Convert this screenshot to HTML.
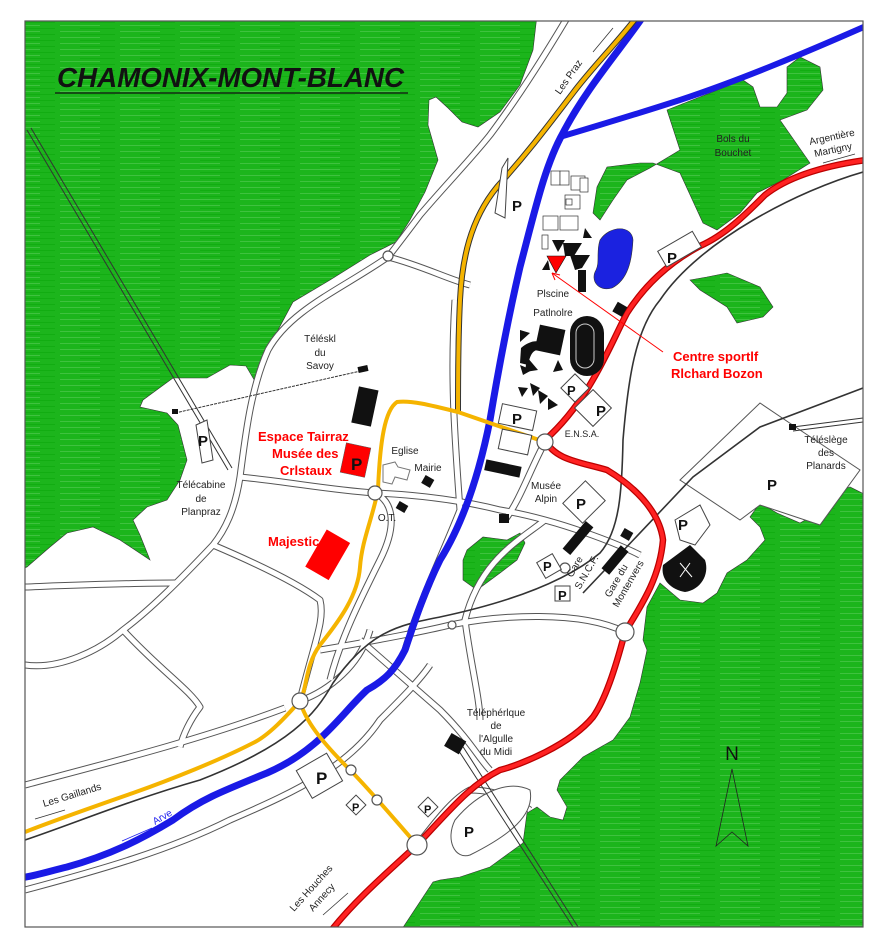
<!DOCTYPE html>
<html><head><meta charset="utf-8"><style>
html,body{margin:0;padding:0;background:#fff;}
svg{display:block;}
text{font-family:"Liberation Sans",sans-serif;}
.l{font-size:10px;fill:#222;}
.r{font-size:13px;fill:#f00;font-weight:bold;}
.p{font-size:15px;font-weight:bold;fill:#111;}
</style></head><body>
<svg width="880" height="950" viewBox="0 0 880 950" xmlns="http://www.w3.org/2000/svg">
<defs>
<pattern id="g" width="60" height="6" patternUnits="userSpaceOnUse">
<rect width="60" height="6" fill="#1cb51c"/>
<rect y="1" width="40" height="1" fill="#3fc23f"/>
<rect x="20" y="4" width="35" height="1" fill="#12ad12"/>
</pattern>
<clipPath id="c"><rect x="25" y="21" width="838" height="906"/></clipPath>
</defs>
<rect x="25" y="21" width="838" height="906" fill="#fff"/>
<g clip-path="url(#c)">
<!-- green areas -->
<path fill="url(#g)" stroke="#333" stroke-width="0.6" d="M20,15 L537,15 L533,50 L520,85 L500,112 L478,127 L462,122 L448,108 L436,97 L429,100 L428,125 L438,160 L425,192 L410,220 L396,242 L370,255 L330,280 L293,302 L270,345 L256,383 L246,366 L230,365 L207,378 L173,378 L143,400 L140,407 L167,413 L178,425 L187,460 L180,480 L167,500 L147,507 L133,520 L140,535 L150,560 L120,540 L93,527 L67,533 L50,547 L27,567 L20,570 Z"/>
<path fill="url(#g)" stroke="#333" stroke-width="0.6" d="M667,110 L743,80 L753,87 L760,107 L777,107 L787,93 L787,67 L800,57 L820,67 L823,90 L807,110 L780,120 L810,163 L783,180 L757,193 L740,213 L717,230 L703,223 L680,173 L653,163 L640,163 L607,167 L597,187 L593,213 L600,220 L613,200 L627,180 L650,168 L680,150 Z"/>
<path fill="url(#g)" stroke="#333" stroke-width="0.6" d="M690,280 L707,277 L727,273 L760,287 L773,307 L763,317 L737,323 L727,307 L700,290 Z"/>
<path fill="url(#g)" stroke="#333" stroke-width="0.6" d="M870,497 L850,487 L833,493 L823,510 L800,523 L777,513 L760,503 L750,517 L760,527 L765,540 L747,560 L727,573 L717,593 L703,603 L680,600 L660,583 L647,607 L643,640 L647,650 L640,683 L630,717 L613,740 L583,757 L560,780 L557,790 L567,807 L563,820 L550,817 L537,807 L527,813 L523,843 L490,867 L460,877 L440,880 L433,882 L400,932 L870,932 Z"/>
<path fill="url(#g)" stroke="#333" stroke-width="0.6" d="M467,550 L483,537 L507,540 L520,533 L525,543 L517,560 L500,573 L477,590 L463,580 L463,560 Z"/>
<path d="M600,240 C610,225 632,225 633,240 C632,260 628,280 612,288 C598,292 590,280 596,270 C600,262 596,252 600,240 Z" fill="#1b22e0" stroke="#333" stroke-width="0.6"/>

<!-- gray roads -->
<g fill="none" stroke="#555" stroke-width="7" stroke-linejoin="round">
<path d="M567,18 C545,55 520,95 490,135 C470,160 450,180 420,215 C405,235 395,248 388,257 C340,290 290,310 268,350 C250,390 245,440 240,477 C235,510 225,530 213,545 C180,580 150,610 123,630 C100,650 60,670 25,665"/>
<path d="M388,257 C420,265 450,280 470,285"/>
<path d="M240,477 C290,482 330,490 375,493"/>
<path d="M25,587 C80,585 130,583 175,583"/>
<path d="M213,545 C260,565 300,585 320,600 C325,620 315,640 300,700"/>
<path d="M123,630 C160,670 190,690 200,707 C190,720 183,735 180,747"/>
<path d="M25,785 C100,765 200,740 285,708"/>
<path d="M25,890 C100,870 170,850 230,820 C300,790 350,765 380,720 C400,700 420,680 430,665"/>
<path d="M375,493 C420,495 460,500 500,510 C560,520 620,545 640,555"/>
<path d="M455,300 C450,380 455,440 460,510 C440,560 420,600 405,650"/>
<path d="M545,442 C530,470 520,500 505,520"/>
<path d="M375,493 C390,500 400,520 380,560 C360,600 340,640 330,680"/>
<path d="M545,520 C520,540 480,560 465,620 C470,660 480,700 480,720"/>
<path d="M320,650 C380,640 430,630 450,625 C500,615 580,610 625,632"/>
<path d="M360,640 L440,710 C470,740 480,760 490,770"/>
<path d="M300,701 C330,690 360,665 370,630"/>
<path d="M417,845 C430,830 450,800 470,790 C490,790 510,795 530,810"/>
</g>
<g fill="none" stroke="#fff" stroke-width="5" stroke-linejoin="round">
<path d="M567,18 C545,55 520,95 490,135 C470,160 450,180 420,215 C405,235 395,248 388,257 C340,290 290,310 268,350 C250,390 245,440 240,477 C235,510 225,530 213,545 C180,580 150,610 123,630 C100,650 60,670 25,665"/>
<path d="M388,257 C420,265 450,280 470,285"/>
<path d="M240,477 C290,482 330,490 375,493"/>
<path d="M25,587 C80,585 130,583 175,583"/>
<path d="M213,545 C260,565 300,585 320,600 C325,620 315,640 300,700"/>
<path d="M123,630 C160,670 190,690 200,707 C190,720 183,735 180,747"/>
<path d="M25,785 C100,765 200,740 285,708"/>
<path d="M25,890 C100,870 170,850 230,820 C300,790 350,765 380,720 C400,700 420,680 430,665"/>
<path d="M375,493 C420,495 460,500 500,510 C560,520 620,545 640,555"/>
<path d="M455,300 C450,380 455,440 460,510 C440,560 420,600 405,650"/>
<path d="M545,442 C530,470 520,500 505,520"/>
<path d="M375,493 C390,500 400,520 380,560 C360,600 340,640 330,680"/>
<path d="M545,520 C520,540 480,560 465,620 C470,660 480,700 480,720"/>
<path d="M320,650 C380,640 430,630 450,625 C500,615 580,610 625,632"/>
<path d="M360,640 L440,710 C470,740 480,760 490,770"/>
<path d="M300,701 C330,690 360,665 370,630"/>
<path d="M417,845 C430,830 450,800 470,790 C490,790 510,795 530,810"/>
</g>
<!-- big parking outlines -->
<path d="M680,480 L760,403 L800,430 L860,470 L820,525 L760,505 L740,520 Z" fill="#fff" stroke="#555" stroke-width="1"/>
<path d="M455,820 C480,790 510,780 530,790 C535,815 510,835 470,855 C455,860 445,840 455,820 Z" fill="#fff" stroke="#555" stroke-width="1"/>

<!-- rail lines -->
<g fill="none" stroke="#333" stroke-width="1.6">
<path d="M863,172 C800,190 700,240 660,300 C635,330 628,380 623,440 C622,490 620,530 600,553 C570,578 520,600 440,617 C400,625 370,630 333,683 C315,715 290,745 200,780 C130,800 70,825 25,840"/>
<path d="M863,388 L760,427 L693,477 L583,593"/>
</g>
<g stroke="#333" stroke-width="1">
<path d="M27,130 L228,470 M31,128 L232,468"/>
<path d="M455,745 L575,930 M460,742 L580,930"/>
<path d="M793,427 L863,418 M793,431 L863,422"/>
</g>
<path d="M175,413 L365,370" stroke="#333" stroke-width="1" stroke-dasharray="3,1"/>
<rect x="172" y="409" width="6" height="5" fill="#111"/>
<rect x="358" y="366" width="10" height="6" fill="#111" transform="rotate(-12 363 369)"/>
<rect x="789" y="424" width="7" height="6" fill="#111"/>

<!-- rivers -->
<g fill="none" stroke="#1a1ae6" stroke-linecap="round">
<path stroke-width="7" d="M642,18 C620,50 585,90 563,133 C545,165 535,210 520,267 C510,310 500,360 490,420 C480,470 465,520 440,560 C425,590 415,620 405,650 C395,670 385,680 367,690 C340,715 320,750 267,773 C220,792 200,800 173,820 C140,840 110,855 67,867 C50,871 35,876 20,878"/>
<path stroke-width="6" d="M563,136 C600,125 640,113 680,100 C740,80 800,55 866,26"/>
</g>
<!-- orange road -->
<g fill="none" stroke="#333" stroke-width="6"><path d="M636,18 C615,45 590,70 573,93 C550,123 530,150 497,187 C470,220 462,260 460,300 C458,340 458,380 458,412"/></g>
<g fill="none" stroke="#f5b400" stroke-width="4" stroke-linejoin="round">
<path d="M636,18 C615,45 590,70 573,93 C550,123 530,150 497,187 C470,220 462,260 460,300 C458,340 458,380 458,412"/>
<path d="M545,442 L458,412 C430,405 410,400 397,402 C385,410 380,440 378,490 C372,520 362,540 360,567 C358,595 340,620 320,645 C305,665 307,690 300,701 C290,712 270,735 253,743 C220,760 170,780 133,793 C90,808 50,822 25,832"/>
<path d="M300,701 C305,720 320,740 350,770 C370,790 395,820 417,845"/>
</g>
<!-- red road -->
<g fill="none" stroke="#b00" stroke-width="6.5" stroke-linejoin="round"><path d="M866,160 C830,165 790,175 765,195 C745,215 725,235 700,246 C670,262 645,285 627,313 C610,345 590,400 545,440 C555,460 580,462 607,470 C640,490 660,515 663,540 C660,575 645,600 625,632 C615,670 605,700 593,717 C570,745 520,765 500,770 C470,785 450,810 417,845 C390,870 355,900 330,932"/></g>
<g fill="none" stroke="#f22" stroke-width="4" stroke-linejoin="round"><path d="M866,160 C830,165 790,175 765,195 C745,215 725,235 700,246 C670,262 645,285 627,313 C610,345 590,400 545,440 C555,460 580,462 607,470 C640,490 660,515 663,540 C660,575 645,600 625,632 C615,670 605,700 593,717 C570,745 520,765 500,770 C470,785 450,810 417,845 C390,870 355,900 330,932"/></g>
<!-- roundabouts -->
<g fill="#fff" stroke="#555" stroke-width="1.2">
<circle cx="388" cy="256" r="5"/><circle cx="375" cy="493" r="7"/><circle cx="545" cy="442" r="8"/>
<circle cx="625" cy="632" r="9"/><circle cx="300" cy="701" r="8"/><circle cx="417" cy="845" r="10"/>
<circle cx="351" cy="770" r="5"/><circle cx="377" cy="800" r="5"/><circle cx="452" cy="625" r="4"/><circle cx="565" cy="568" r="5"/>
</g>

<!-- buildings -->
<g fill="#111">
<rect x="355" y="388" width="20" height="37" transform="rotate(12 365 406)"/>
<rect x="485" y="463" width="36" height="11" transform="rotate(12 503 468)"/>
<rect x="423" y="477" width="10" height="9" transform="rotate(30 428 481)"/>
<rect x="397" y="503" width="10" height="8" transform="rotate(30 402 507)"/>
<rect x="499" y="514" width="10" height="9"/>
<rect x="573" y="520" width="10" height="36" transform="rotate(40 578 538)"/>
<rect x="622" y="530" width="10" height="9" transform="rotate(30 627 534)"/>
<rect x="610" y="545" width="10" height="30" transform="rotate(40 615 560)"/>
<rect x="447" y="736" width="17" height="15" transform="rotate(30 455 743)"/>
<rect x="614" y="304" width="11" height="11" transform="rotate(30 620 310)"/>
<rect x="537" y="327" width="26" height="26" transform="rotate(12 550 340)"/>
<rect x="578" y="270" width="8" height="22"/>
<rect x="570" y="316" width="34" height="60" rx="17"/>
<polygon points="552,240 565,240 558,252"/><polygon points="563,243 582,243 574,256 565,256"/>
<polygon points="570,255 590,255 582,268 575,270"/><polygon points="542,270 548,260 550,270"/>
<polygon points="585,228 592,238 583,238"/>
<polygon points="520,330 530,333 520,342"/><polygon points="520,365 532,370 523,375"/>
<polygon points="527,357 538,370 525,372"/><polygon points="558,360 563,370 553,372"/>
<polygon points="518,387 528,388 522,397"/><polygon points="530,383 540,388 533,396"/><polygon points="538,390 548,396 540,404"/><polygon points="548,398 558,405 548,410"/>
<path d="M521,348 C528,342 535,340 540,342 L538,350 C533,350 530,355 528,365 L520,363 Z"/>
<path d="M663,565 L690,545 L705,560 C710,575 700,590 685,592 C672,590 660,580 663,565 Z"/>
</g>
<rect x="576" y="324" width="18" height="44" rx="9" fill="none" stroke="#ccc" stroke-width="1"/>
<path d="M680,563 L692,577 M690,563 L680,577" stroke="#fff" stroke-width="1"/>
<polygon points="547,256 566,256 556,273" fill="#f00" stroke="#111" stroke-width="0.6"/>
<g fill="#fff" stroke="#333" stroke-width="0.7">
<rect x="551" y="171" width="9" height="14"/><rect x="560" y="171" width="9" height="14"/>
<rect x="571" y="176" width="14" height="14"/><rect x="580" y="178" width="8" height="14"/>
<rect x="565" y="195" width="15" height="14"/><rect x="543" y="216" width="15" height="14"/><rect x="560" y="216" width="18" height="14"/>
<rect x="542" y="235" width="6" height="14"/><rect x="566" y="199" width="6" height="6"/>
</g>
<!-- red buildings -->
<rect x="343" y="445" width="25" height="30" fill="#f00" stroke="#555" stroke-width="0.5" transform="rotate(12 355 460)"/>
<text x="351" y="470" class="p" style="font-size:17px">P</text>
<rect x="314" y="533" width="27" height="43" fill="#f00" transform="rotate(30 327 555)"/>
<!-- Eglise cross -->
<path d="M383,465 L395,462 L398,467 L410,470 L407,480 L395,477 L392,484 L383,482 Z" fill="#fff" stroke="#777" stroke-width="1"/>
<!-- P boxes -->
<g fill="#fff" stroke="#444" stroke-width="1">
<path d="M502,168 L508,158 L505,218 L495,213 Z"/>
<rect x="580" y="395" width="26" height="26" transform="rotate(45 593 408)"/>
<rect x="565" y="378" width="20" height="20" transform="rotate(45 575 388)"/>
<rect x="500" y="407" width="35" height="20" transform="rotate(12 517 417)"/>
<rect x="500" y="432" width="30" height="20" transform="rotate(12 515 442)"/>
<rect x="660" y="240" width="40" height="18" transform="rotate(-30 680 250)"/>
<rect x="568" y="488" width="32" height="28" transform="rotate(-45 584 502)"/>
<rect x="540" y="557" width="18" height="18" transform="rotate(-30 549 566)"/>
<rect x="555" y="586" width="15" height="15"/>
<rect x="302" y="760" width="35" height="32" transform="rotate(-30 319 776)"/>
<rect x="349" y="798" width="14" height="14" transform="rotate(-45 356 805)"/>
<rect x="421" y="800" width="14" height="14" transform="rotate(-45 428 807)"/>
<path d="M196,425 L207,420 L213,460 L202,463 Z"/>
<path d="M675,520 L700,505 L710,525 L695,545 L680,540 Z"/>
</g>
<g class="p">
<text x="512" y="211">P</text><text x="667" y="263">P</text><text x="567" y="395" style="font-size:13px">P</text>
<text x="596" y="416">P</text><text x="512" y="424">P</text><text x="576" y="509">P</text>
<text x="543" y="571" style="font-size:13px">P</text><text x="558" y="600" style="font-size:13px">P</text>
<text x="316" y="784" style="font-size:17px">P</text><text x="352" y="811" style="font-size:11px">P</text>
<text x="424" y="813" style="font-size:11px">P</text><text x="198" y="446">P</text>
<text x="767" y="490">P</text><text x="678" y="530">P</text><text x="464" y="837">P</text>
</g>
</g>
<rect x="25" y="21" width="838" height="906" fill="none" stroke="#555" stroke-width="1.2"/>

<!-- title -->
<text x="57" y="87" style="font-size:28px;font-weight:bold;font-style:italic;fill:#111" textLength="347" lengthAdjust="spacingAndGlyphs">CHAMONIX-MONT-BLANC</text>
<line x1="55" y1="93" x2="408" y2="93" stroke="#111" stroke-width="1.2"/>

<!-- red labels -->
<g class="r">
<text x="258" y="441">Espace Tairraz</text>
<text x="272" y="458">Musée des</text>
<text x="280" y="475">Crlstaux</text>
<text x="268" y="546">Majestic</text>
<text x="673" y="361">Centre sportlf</text>
<text x="671" y="378">Rlchard Bozon</text>
</g>
<line x1="663" y1="352" x2="552" y2="273" stroke="#f00" stroke-width="1"/>
<path d="M552,273 L560,275 M552,273 L555,280" stroke="#f00" stroke-width="1"/>

<!-- labels -->
<g class="l" text-anchor="middle">
<text x="320" y="342">Téléskl</text><text x="320" y="356">du</text><text x="320" y="369">Savoy</text>
<text x="201" y="488">Télécabine</text><text x="201" y="502">de</text><text x="201" y="515">Planpraz</text>
<text x="405" y="454">Eglise</text><text x="428" y="471">Mairie</text><text x="387" y="521">O.T.</text>
<text x="546" y="489">Musée</text><text x="546" y="502">Alpin</text>
<text x="553" y="297">Plscine</text><text x="553" y="316">Patlnolre</text>
<text x="582" y="437" style="font-size:9px">E.N.S.A.</text>
<text x="733" y="142">Bols du</text><text x="733" y="156">Bouchet</text>
<text x="826" y="443">Téléslège</text><text x="826" y="456">des</text><text x="826" y="469">Planards</text>
<text x="496" y="716">Téléphérlque</text><text x="496" y="729">de</text><text x="496" y="742">l'Algulle</text><text x="496" y="755">du Midi</text>
</g>
<text x="0" y="0" class="l" transform="translate(560,95) rotate(-55)">Les Praz</text>
<line x1="593" y1="52" x2="613" y2="28" stroke="#333" stroke-width="0.8"/>
<text x="0" y="0" class="l" transform="translate(810,145) rotate(-12)">Argentière</text>
<text x="0" y="0" class="l" transform="translate(815,157) rotate(-12)">Martigny</text>
<line x1="823" y1="163" x2="855" y2="154" stroke="#333" stroke-width="0.8"/>
<text x="0" y="0" class="l" transform="translate(44,807) rotate(-17)">Les Gaillands</text>
<line x1="35" y1="819" x2="65" y2="810" stroke="#333" stroke-width="0.8"/>
<text x="0" y="0" style="font-size:10px;fill:#22e" transform="translate(155,825) rotate(-30)">Arve</text>
<line x1="122" y1="841" x2="152" y2="828" stroke="#22e" stroke-width="0.8"/>
<text x="0" y="0" class="l" transform="translate(294,912) rotate(-48)">Les Houches</text>
<text x="0" y="0" class="l" transform="translate(313,912) rotate(-48)">Annecy</text>
<line x1="323" y1="915" x2="348" y2="893" stroke="#333" stroke-width="0.8"/>
<text x="0" y="0" class="l" transform="translate(572,578) rotate(-60)">Gare</text>
<text x="0" y="0" class="l" transform="translate(580,590) rotate(-60)">S.N.C.F.</text>
<text x="0" y="0" class="l" transform="translate(610,598) rotate(-60)">Gare du</text>
<text x="0" y="0" class="l" transform="translate(618,608) rotate(-60)">Montenvers</text>
<!-- north arrow -->
<text x="732" y="760" style="font-size:19px;fill:#111" text-anchor="middle">N</text>
<path d="M732,769 L716,846 L732,832 L748,846 Z" fill="none" stroke="#222" stroke-width="0.8"/>
</svg>
</body></html>
